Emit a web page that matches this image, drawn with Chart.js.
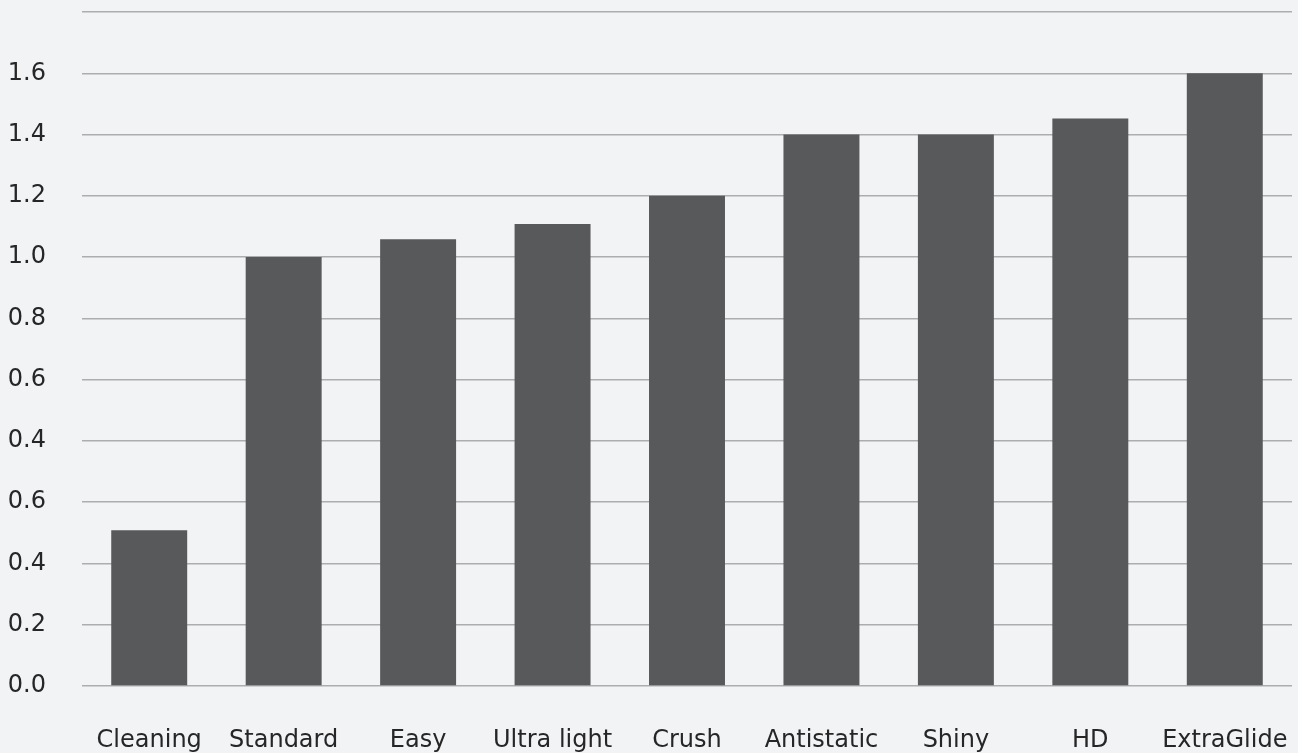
<!DOCTYPE html>
<html>
<head>
<meta charset="utf-8">
<script src="https://cdn.jsdelivr.net/npm/chart.js@4/dist/chart.umd.min.js"></script>
<style>
  html, body { margin: 0; padding: 0; background: #f2f3f5; }
  #wrap { width: 1298px; height: 753px; position: relative; }
</style>
</head>
<body>
<div id="wrap"><canvas id="c" width="1298" height="753"></canvas></div>
<script>
const categories = ["Cleaning", "Standard", "Easy", "Ultra light", "Crush", "Antistatic", "Shiny", "HD", "ExtraGlide"];
// values measured in gridline steps (position on the axis as drawn)
const values = [2.54, 7.0, 7.29, 7.54, 8.0, 9.0, 9.0, 9.26, 10.0];
const tickLabels = ["0.0", "0.2", "0.4", "0.6", "0.4", "0.6", "0.8", "1.0", "1.2", "1.4", "1.6", ""];

const FONT = { family: "'DejaVu Sans', Verdana, sans-serif", size: 24 };

new Chart(document.getElementById('c'), {
  type: 'bar',
  data: {
    labels: categories,
    datasets: [{
      data: values,
      backgroundColor: '#58595b',
      borderWidth: 0,
      categoryPercentage: 1.0,
      barPercentage: 0.565
    }]
  },
  options: {
    responsive: false,
    animation: false,
    layout: { padding: { top: 12, right: 6, bottom: 0, left: 0 } },
    plugins: { legend: { display: false }, tooltip: { enabled: false } },
    scales: {
      x: {
        grid: { display: false, drawTicks: false },
        border: { display: false },
        ticks: { font: FONT, color: '#262626', padding: 40, maxRotation: 0, autoSkip: false },
        afterFit: s => { s.height = 67; s.paddingLeft = 0; s.paddingRight = 0; }
      },
      y: {
        min: 0, max: 11,
        grid: { color: '#adadad', lineWidth: 1.5, drawTicks: false },
        border: { display: false },
        ticks: {
          stepSize: 1, font: FONT, color: '#262626', padding: 36,
          callback: v => tickLabels[v] !== undefined ? tickLabels[v] : ''
        },
        afterFit: s => { s.width = 82; s.paddingTop = 0; s.paddingBottom = 0; }
      }
    }
  },
  plugins: [{
    id: 'bg',
    beforeDraw: c => { const x = c.ctx; x.save(); x.fillStyle = '#f2f3f5'; x.fillRect(0, 0, c.width, c.height); x.restore(); }
  }]
});
</script>
</body>
</html>
